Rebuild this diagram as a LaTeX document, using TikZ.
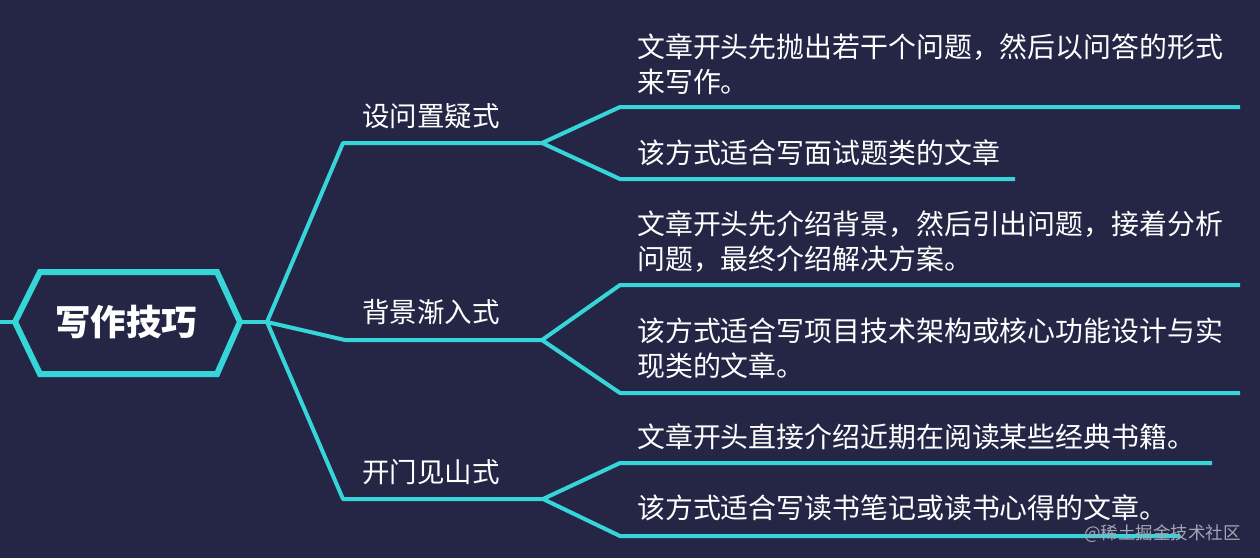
\documentclass[tikz,border=0pt]{standalone}
\usepackage{fontspec}
\setmainfont{Noto Sans CJK SC}
\definecolor{bgc}{RGB}{37,38,70}
\definecolor{cyc}{RGB}{54,214,216}
\definecolor{wmc}{RGB}{165,166,180}
\begin{document}
\begin{tikzpicture}[x=1pt,y=-1pt,
  conn/.style={draw=cyc, line width=4pt, line join=round},
  hexline/.style={draw=cyc, line width=6pt, line join=miter},
  leaf/.style={anchor=west, inner sep=0pt, text=white, align=left,
    font=\fontsize{27.9}{35}\selectfont},
  branch/.style={anchor=west, inner sep=0pt, text=white,
    font=\fontsize{27.5}{35}\selectfont},
  rootlabel/.style={inner sep=0pt, text=white,
    font=\bfseries\fontsize{35.5}{40}\selectfont},
  wmark/.style={anchor=east, inner sep=0pt, text=wmc,
    font=\fontsize{17.5}{20}\selectfont}]
\fill[bgc] (0,0) rectangle (1260,558);
\useasboundingbox (0,0) rectangle (1260,558);

% root hexagon
\coordinate (stub) at (0,322);
\coordinate (hl) at (15,322);
\coordinate (htl) at (40,272);
\coordinate (htr) at (217,272);
\coordinate (hr) at (240,322);
\coordinate (hbr) at (217,374);
\coordinate (hbl) at (40,374);
\draw[hexline] (hl) -- (htl) -- (htr) -- (hr) -- (hbr) -- (hbl) -- cycle;
\node[rootlabel] (root) at (126,322) {写作技巧};
\draw[conn] (stub) -- (hl);

% junctions
\coordinate (j0) at (267,322);
\coordinate (b1s) at (343,143);
\coordinate (b1j) at (542,143);
\coordinate (b2s) at (345,340);
\coordinate (b2j) at (542,340);
\coordinate (b3s) at (343,499);
\coordinate (b3j) at (543,499);

\draw[conn] (hr) -- (j0);
\draw[conn] (j0) -- (b1s) -- (b1j);
\draw[conn] (j0) -- (b2s) -- (b2j);
\draw[conn] (j0) -- (b3s) -- (b3j);

% leaves of branch 1
\coordinate (l1a) at (620,107);  \coordinate (l1ae) at (1240,107);
\coordinate (l1b) at (620,179);  \coordinate (l1be) at (1015,179);
\draw[conn] (b1j) -- (l1a) -- (l1ae);
\draw[conn] (b1j) -- (l1b) -- (l1be);

% leaves of branch 2
\coordinate (l2a) at (620,285);  \coordinate (l2ae) at (1240,285);
\coordinate (l2b) at (620,393);  \coordinate (l2be) at (1240,393);
\draw[conn] (b2j) -- (l2a) -- (l2ae);
\draw[conn] (b2j) -- (l2b) -- (l2be);

% leaves of branch 3
\coordinate (l3a) at (620,463);  \coordinate (l3ae) at (1212,463);
\coordinate (l3b) at (620,536);  \coordinate (l3be) at (1180,536);
\draw[conn] (b3j) -- (l3a) -- (l3ae);
\draw[conn] (b3j) -- (l3b) -- (l3be);

% branch labels
\node[branch] (n1) at (362,116) {设问置疑式};
\node[branch] (n2) at (362,312) {背景渐入式};
\node[branch] (n3) at (362,472) {开门见山式};

% leaf texts
\node[leaf] (t1a) at (637,64) {文章开头先抛出若干个问题，然后以问答的形式\\来写作。};
\node[leaf] (t1b) at (637,153) {该方式适合写面试题类的文章};
\node[leaf] (t2a) at (637,242) {文章开头先介绍背景，然后引出问题，接着分析\\问题，最终介绍解决方案。};
\node[leaf] (t2b) at (637,348) {该方式适合写项目技术架构或核心功能设计与实\\现类的文章。};
\node[leaf] (t3a) at (637,437) {文章开头直接介绍近期在阅读某些经典书籍。};
\node[leaf] (t3b) at (637,508) {该方式适合写读书笔记或读书心得的文章。};

% watermark
\node[wmark] (wm) at (1241,534) {@稀土掘金技术社区};
\end{tikzpicture}
\end{document}
